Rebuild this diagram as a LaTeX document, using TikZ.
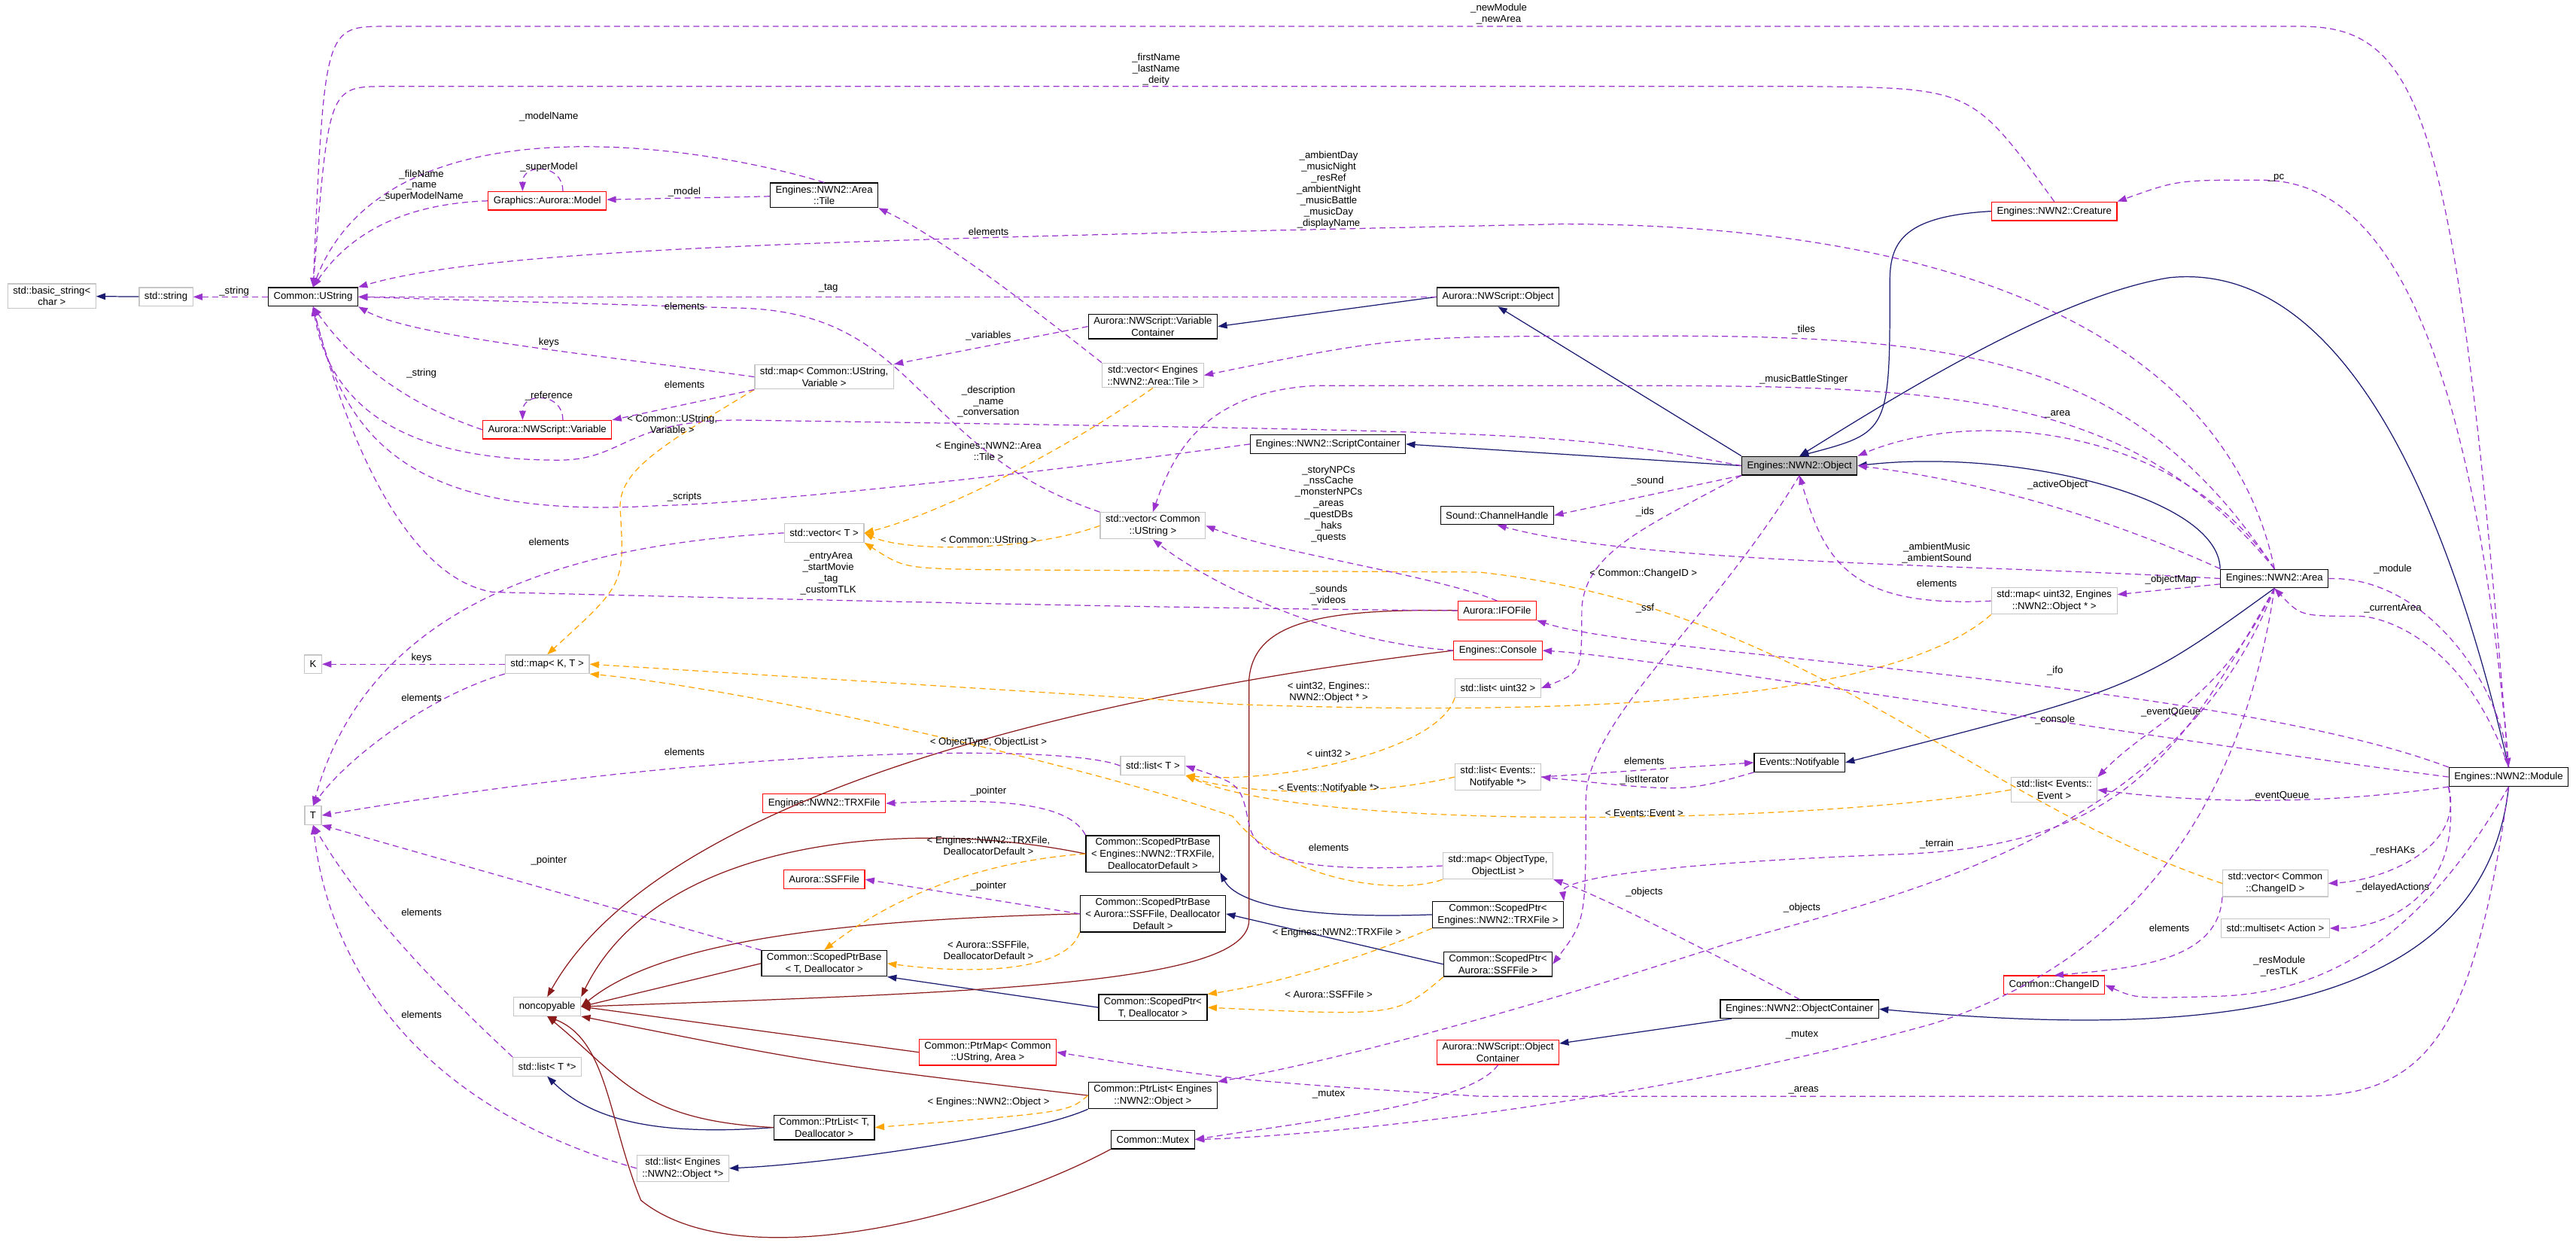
\documentclass[tikz,border=0pt]{standalone}
\usepackage{fontspec}
\setmainfont{Liberation Sans}
\usetikzlibrary{positioning, calc, arrows.meta, shapes}

\definecolor{usecol}{HTML}{9A32CD}
\definecolor{inhcol}{HTML}{191970}
\definecolor{ncpcol}{HTML}{8B1A1A}
\definecolor{tplcol}{HTML}{FFA500}

\begin{document}
\begin{tikzpicture}[x=0.02184cm, y=-0.02126cm,
    cls/.style={rectangle, draw=black, line width=0.75pt, fill=white, font=\fontsize{7.5}{9}\selectfont, align=center, inner xsep=4pt, inner ysep=2pt, minimum height=14pt},
    ext/.style={cls, draw=gray!45, line width=0.7pt},
    redcls/.style={cls, draw=red, line width=0.7pt},
    focus/.style={cls, fill=gray!55},
    lbl/.style={font=\fontsize{7.5}{8.5}\selectfont, align=center, inner sep=1pt},
    use/.style={usecol, dash pattern=on 4.5pt off 3pt, line width=0.7pt, -{Triangle[length=7pt,width=5pt]}},
    inh/.style={inhcol, line width=0.7pt, -{Triangle[length=7pt,width=5pt]}},
    ncp/.style={ncpcol, line width=0.7pt, -{Triangle[length=7pt,width=5pt]}},
    tpl/.style={tplcol, dash pattern=on 4.5pt off 3pt, line width=0.7pt, -{Triangle[length=7pt,width=5pt]}}
]
    \useasboundingbox (0,0) rectangle (3135,1568);

    % Classes, left half
    \node[ext] (bs) at (63,370) {std::basic\_string<\\char >};
    \node[ext] (str) at (202,371) {std::string};
    \node[cls] (us) at (381,371) {Common::UString};
    \node[redcls] (model) at (666,251) {Graphics::Aurora::Model};
    \node[cls] (tile) at (1003,244) {Engines::NWN2::Area\\::Tile};
    \node[cls] (nwvc) at (1403,408) {Aurora::NWScript::Variable\\Container};
    \node[ext] (vtile) at (1403,469) {std::vector< Engines\\::NWN2::Area::Tile >};
    \node[ext] (mapvar) at (1003,471) {std::map< Common::UString,\\Variable >};
    \node[redcls] (var) at (666,537) {Aurora::NWScript::Variable};
    \node[ext] (vus) at (1403,657) {std::vector< Common\\::UString >};
    \node[ext] (vecT) at (1003,666) {std::vector< T >};
    \node[ext] (K) at (381,830) {K};
    \node[ext] (mapKT) at (666,830) {std::map< K, T >};
    \node[ext] (T) at (381,1019) {T};
    \node[ext] (listT) at (1403,957) {std::list< T >};
    \node[redcls] (trx) at (1003,1004) {Engines::NWN2::TRXFile};
    \node[cls] (spbTRX) at (1403,1067) {Common::ScopedPtrBase\\< Engines::NWN2::TRXFile,\\DeallocatorDefault >};
    \node[redcls] (ssf) at (1003,1099) {Aurora::SSFFile};
    \node[cls] (spbSSF) at (1403,1142) {Common::ScopedPtrBase\\< Aurora::SSFFile, Deallocator\\Default >};
    \node[cls] (spbT) at (1003,1204) {Common::ScopedPtrBase\\< T, Deallocator >};
    \node[ext] (nonc) at (666,1258) {noncopyable};
    \node[cls] (spT) at (1403,1259) {Common::ScopedPtr<\\T, Deallocator >};
    \node[redcls] (ptrmap) at (1202,1315) {Common::PtrMap< Common\\::UString, Area >};
    \node[ext] (listTp) at (666,1333) {std::list< T *>};
    \node[cls] (ptrlistO) at (1403,1369) {Common::PtrList< Engines\\::NWN2::Object >};
    \node[cls] (ptrlistT) at (1003,1409) {Common::PtrList< T,\\Deallocator >};
    \node[cls] (mutex) at (1403,1424) {Common::Mutex};
    \node[ext] (listO) at (831,1460) {std::list< Engines\\::NWN2::Object *>};

    % Classes, right half
    \node[redcls] (creature) at (2500,264) {Engines::NWN2::Creature};
    \node[cls] (nwo) at (1823,371) {Aurora::NWScript::Object};
    \node[cls] (sc) at (1616,555) {Engines::NWN2::ScriptContainer};
    \node[focus] (obj) at (2190,582) {Engines::NWN2::Object};
    \node[cls] (snd) at (1822,644) {Sound::ChannelHandle};
    \node[cls] (area) at (2768,723) {Engines::NWN2::Area};
    \node[ext] (mapuo) at (2500,751) {std::map< uint32, Engines\\::NWN2::Object * >};
    \node[redcls] (ifo) at (1822,763) {Aurora::IFOFile};
    \node[redcls] (console) at (1823,813) {Engines::Console};
    \node[ext] (listu32) at (1823,860) {std::list< uint32 >};
    \node[cls] (notif) at (2190,953) {Events::Notifyable};
    \node[ext] (listN) at (1823,971) {std::list< Events::\\Notifyable *>};
    \node[ext] (listE) at (2500,987) {std::list< Events::\\Event >};
    \node[cls] (module) at (3053,971) {Engines::NWN2::Module};
    \node[ext] (mapOT) at (1823,1082) {std::map< ObjectType,\\ObjectList >};
    \node[ext] (vcid) at (2769,1104) {std::vector< Common\\::ChangeID >};
    \node[cls] (spTRX) at (1823,1143) {Common::ScopedPtr<\\Engines::NWN2::TRXFile >};
    \node[ext] (mset) at (2769,1160) {std::multiset< Action >};
    \node[cls] (spSSF) at (1823,1205) {Common::ScopedPtr<\\Aurora::SSFFile >};
    \node[redcls] (cid) at (2500,1231) {Common::ChangeID};
    \node[cls] (oc) at (2190,1261) {Engines::NWN2::ObjectContainer};
    \node[redcls] (nwoc) at (1823,1315) {Aurora::NWScript::Object\\Container};

    % Inheritance
    \draw[inh] (str) -- (bs);
    \draw[inh] (nwo.west) -- (nwvc.east);
    \draw[inh] (obj.north west) -- (nwo.south);
    \draw[inh] (obj.west) -- (sc.east);
    \draw[inh] (creature.west) .. controls (2320,270) and (2300,300) .. (2300,350) .. controls (2300,540) .. (obj.north);
    \draw[inh] (area.north west) .. controls (2700,620) and (2450,560) .. (obj.east);
    \draw[inh] (module.north) .. controls (2950,500) and (2800,330) .. (2640,347) .. controls (2500,370) and (2300,500) .. (obj.north);
    \draw[inh] (area.south) .. controls (2600,860) .. (notif.east);
    \draw[inh] (module.south) .. controls (3020,1300) and (2600,1290) .. (oc.east);
    \draw[inh] (oc) -- (nwoc);
    \draw[inh] (spTRX.west) .. controls (1550,1150) and (1500,1120) .. (spbTRX.south east);
    \draw[inh] (spSSF.west) -- (spbSSF.east);
    \draw[inh] (spT.west) -- (spbT.south east);
    \draw[inh] (ptrlistT.west) .. controls (800,1420) and (720,1400) .. (listTp.south);
    \draw[inh] (ptrlistO.south west) .. controls (1250,1420) and (1000,1455) .. (listO.east);

    % noncopyable
    \draw[ncp] (ifo.west) .. controls (1600,760) and (1525,780) .. (1520,850) -- (1520,1150) .. controls (1520,1230) and (1200,1240) .. (nonc.east);
    \draw[ncp] (console.west) .. controls (1300,870) and (800,1000) .. (nonc.north);
    \draw[ncp] (spbTRX.west) .. controls (1100,1020) and (800,1050) .. (nonc.north east);
    \draw[ncp] (spbSSF.west) .. controls (1000,1150) and (800,1180) .. (nonc.east);
    \draw[ncp] (spbT.west) -- (nonc.east);
    \draw[ncp] (ptrmap.west) -- (nonc.east);
    \draw[ncp] (ptrlistO.west) .. controls (1000,1330) .. (nonc.south east);
    \draw[ncp] (ptrlistT.west) .. controls (780,1400) and (760,1350) .. (nonc.south);
    \draw[ncp] (mutex.south west) .. controls (1200,1520) and (900,1600) .. (780,1500) .. controls (740,1400) and (740,1300) .. (nonc.south);

    % Template instances
    \draw[tpl] (mapvar.south west) .. controls (800,560) and (750,590) .. (755,640) .. controls (760,730) .. (mapKT.north);
    \draw[tpl] (vtile.south) .. controls (1300,560) and (1150,640) .. (vecT.east);
    \draw[tpl] (vus.west) .. controls (1250,690) and (1100,690) .. (vecT.east);
    \draw[tpl] (vcid.west) .. controls (2400,1000) and (2200,760) .. (1800,715) -- (1200,712) .. controls (1100,710) .. (vecT.south east);
    \draw[tpl] (mapuo.south west) .. controls (2300,880) and (1900,895) .. (1500,880) -- (mapKT.east);
    \draw[tpl] (mapOT.south west) .. controls (1700,1120) and (1560,1100) .. (1500,1020) .. controls (1300,950) and (900,860) .. (mapKT.south east);
    \draw[tpl] (listu32.south west) .. controls (1750,940) and (1550,980) .. (listT.south east);
    \draw[tpl] (listN.west) .. controls (1650,1000) and (1500,990) .. (listT.south east);
    \draw[tpl] (listE.west) .. controls (2200,1030) and (1600,1040) .. (listT.south east);
    \draw[tpl] (spbTRX.west) .. controls (1150,1080) and (1050,1150) .. (spbT.north);
    \draw[tpl] (spbSSF.south west) .. controls (1300,1210) and (1200,1220) .. (spbT.east);
    \draw[tpl] (spTRX.south west) .. controls (1650,1200) and (1550,1230) .. (spT.north east);
    \draw[tpl] (spSSF.south west) .. controls (1700,1270) .. (spT.east);
    \draw[tpl] (ptrlistO.west) .. controls (1300,1390) .. (ptrlistT.east);

    % Usage
    \draw[use] (us) -- (str);
    \draw[use] (model.west) .. controls (480,255) and (420,300) .. (us.north);
    \draw[use] ($(model.north)+(19,0)$) .. controls +(0,-35) and +(0,-35) .. ($(model.north)+(-30,0)$);
    \draw[use] (tile.north) .. controls (850,180) and (470,120) .. (us.north);
    \draw[use] (tile) -- (model);
    \draw[use] (creature.north) .. controls (2400,110) .. (2200,108) -- (470,108) .. controls (400,108) .. (us.north);
    \draw[use] (module.north) .. controls (2990,150) and (2950,33) .. (2800,33) -- (470,33) .. controls (395,33) .. (us.north);
    \draw[use] (area.north) .. controls (2700,380) and (2300,280) .. (1900,280) .. controls (1000,300) and (600,310) .. (us.north east);
    \draw[use] (nwo.west) -- (us.east);
    \draw[use] (vus.north west) .. controls (1110,560) and (1120,390) .. (900,385) -- (us.east);
    \draw[use] (mapvar.west) .. controls (700,440) and (500,420) .. (us.south east);
    \draw[use] (mapvar.south west) -- (var.north east);
    \draw[use] (var.west) .. controls (480,500) and (420,440) .. (us.south);
    \draw[use] ($(var.north)+(19,0)$) .. controls +(0,-35) and +(0,-35) .. ($(var.north)+(-30,0)$);
    \draw[use] (nwvc.west) -- (mapvar.north east);
    \draw[use] (obj.west) .. controls (1900,540) .. (900,525) .. controls (760,525) and (760,575) .. (680,575) .. controls (480,575) and (400,500) .. (us.south);
    \draw[use] (sc.west) .. controls (1200,600) and (900,630) .. (800,632) .. controls (500,650) and (420,550) .. (us.south);
    \draw[use] (ifo.west) .. controls (1400,760) and (1000,750) .. (600,740) .. controls (480,720) and (410,500) .. (us.south);
    \draw[use] (vecT.west) .. controls (700,680) and (450,750) .. (T.north);
    \draw[use] (mapKT) -- (K);
    \draw[use] (mapKT.south west) .. controls (520,870) and (420,950) .. (T.north);
    \draw[use] (listT.west) .. controls (1300,930) and (900,930) .. (T.east);
    \draw[use] (spbTRX.north west) .. controls (1300,1000) and (1200,998) .. (trx.east);
    \draw[use] (spbSSF.west) -- (ssf.east);
    \draw[use] (spbT.north west) -- (T.south east);
    \draw[use] (listTp.north west) .. controls (550,1250) and (450,1150) .. (T.south);
    \draw[use] (listO.west) .. controls (500,1380) and (400,1200) .. (T.south);
    \draw[use] (vtile.north west) .. controls (1250,380) and (1150,300) .. (tile.south east);
    \draw[use] (area.north) .. controls (2600,450) and (2400,418) .. (2000,420) .. controls (1700,420) .. (vtile.east);
    \draw[use] (area.north) .. controls (2600,500) and (2400,482) .. (2000,482) -- (1600,482) .. controls (1470,490) and (1430,560) .. (vus.north);
    \draw[use] (ifo.north) .. controls (1750,720) and (1550,690) .. (vus.east);
    \draw[use] (console.west) .. controls (1600,800) and (1460,720) .. (vus.south);
    \draw[use] (area.north) .. controls (2650,530) and (2400,510) .. (obj.north east);
    \draw[use] (area.north west) .. controls (2550,640) and (2400,600) .. (obj.east);
    \draw[use] (mapuo.west) .. controls (2250,760) and (2220,700) .. (obj.south);
    \draw[use] (obj.south west) -- (snd.east);
    \draw[use] (area.west) .. controls (2400,705) and (2000,705) .. (snd.south);
    \draw[use] (obj.south west) .. controls (2000,660) and (1930,690) .. (1925,760) .. controls (1925,840) .. (listu32.east);
    \draw[use] (obj.south) .. controls (2080,780) and (1930,900) .. (1930,1000) .. controls (1930,1150) .. (spSSF.east);
    \draw[use] (area) -- (mapuo);
    \draw[use] (area.east) .. controls (2950,720) and (3040,850) .. (module.north);
    \draw[use] (module.north) .. controls (3000,800) and (2900,770) .. (2870,770) .. controls (2800,770) .. (area.south);
    \draw[use] (module.north) .. controls (3000,300) and (2850,225) .. (2750,225) .. controls (2650,225) .. (creature.north east);
    \draw[use] (module.north west) .. controls (2700,850) and (2000,820) .. (ifo.south east);
    \draw[use] (module.west) .. controls (2600,920) and (2000,820) .. (console.east);
    \draw[use] (listN.east) -- (notif.west);
    \draw[use] (notif.south west) .. controls (2050,990) .. (listN.east);
    \draw[use] (area.south) .. controls (2700,880) and (2620,900) .. (listE.north east);
    \draw[use] (module.south west) .. controls (2800,1010) and (2650,1000) .. (listE.east);
    \draw[use] (area.south) .. controls (2650,950) and (2580,1060) .. (2300,1068) .. controls (2000,1080) and (1900,1100) .. (spTRX.north east);
    \draw[use] (area.south) .. controls (2650,1050) and (2300,1120) .. (2100,1180) .. controls (1800,1280) and (1600,1330) .. (ptrlistO.north east);
    \draw[use] (oc.north) .. controls (2100,1200) and (1950,1120) .. (mapOT.south east);
    \draw[use] (mapOT.west) .. controls (1600,1090) and (1530,1080) .. (1520,1030) .. controls (1510,980) .. (listT.east);
    \draw[use] (area.south) .. controls (2730,1000) and (2600,1200) .. (2350,1280) .. controls (2000,1380) and (1600,1420) .. (mutex.east);
    \draw[use] (nwoc.south) .. controls (1790,1380) and (1600,1400) .. (mutex.east);
    \draw[use] (module.south) .. controls (3010,1300) and (2950,1370) .. (2800,1370) -- (1800,1370) .. controls (1500,1350) .. (ptrmap.east);
    \draw[use] (vcid.south west) .. controls (2700,1200) and (2600,1210) .. (cid.north);
    \draw[use] (module.south west) .. controls (3000,1060) and (2900,1100) .. (vcid.east);
    \draw[use] (module.south west) .. controls (3000,1120) and (2900,1160) .. (mset.east);
    \draw[use] (module.south) .. controls (2960,1150) and (2850,1240) .. (2700,1245) .. controls (2600,1248) .. (cid.east);

    % Connector labels
    \foreach \x/\y/\t [count=\i] in {
        285/364/{\_string}, 513/232/{\_fileName\\\_name\\\_superModelName}, 668/209/{\_superModel},
        668/146/{\_modelName}, 833/240/{\_model}, 1407/87/{\_firstName\\\_lastName\\\_deity},
        1824/17/{\_newModule\\\_newArea}, 1617/237/{\_ambientDay\\\_musicNight\\\_resRef\\\_ambientNight\\\_musicBattle\\\_musicDay\\\_displayName},
        1203/290/{elements}, 1008/360/{\_tag}, 833/383/{elements}, 668/428/{keys}, 513/467/{\_string},
        833/481/{elements}, 668/495/{\_reference}, 1203/420/{\_variables}, 1203/502/{\_description\\\_name\\\_conversation},
        818/530/{< Common::UString,\\Variable >}, 1203/564/{< Engines::NWN2::Area\\::Tile >}, 833/621/{\_scripts},
        1203/676/{< Common::UString >}, 668/677/{elements}, 1008/717/{\_entryArea\\\_startMovie\\\_tag\\\_customTLK},
        513/822/{keys}, 513/872/{elements}, 833/940/{elements}, 1203/928/{< ObjectType, ObjectList >},
        1203/989/{\_pointer}, 1203/1057/{< Engines::NWN2::TRXFile,\\DeallocatorDefault >}, 668/1075/{\_pointer},
        1203/1107/{\_pointer}, 513/1140/{elements}, 1203/1188/{< Aurora::SSFFile,\\DeallocatorDefault >},
        513/1268/{elements}, 1203/1377/{< Engines::NWN2::Object >},
        2195/412/{\_tiles}, 2195/474/{\_musicBattleStinger}, 2504/518/{\_area}, 2504/606/{\_activeObject},
        2005/601/{\_sound}, 2002/640/{\_ids}, 1617/630/{\_storyNPCs\\\_nssCache\\\_monsterNPCs\\\_areas\\\_questDBs\\\_haks\\\_quests},
        2357/691/{\_ambientMusic\\\_ambientSound}, 2000/717/{< Common::ChangeID >}, 2357/729/{elements},
        2642/725/{\_objectMap}, 2912/711/{\_module}, 2912/760/{\_currentArea}, 2770/222/{\_pc},
        1617/744/{\_sounds\\\_videos}, 2002/760/{\_ssf}, 2501/838/{\_ifo}, 1617/865/{< uint32, Engines::\\NWN2::Object * >},
        2642/890/{\_eventQueue}, 2501/899/{\_console}, 1617/942/{< uint32 >}, 2001/951/{elements},
        2001/975/{\_listIterator}, 1617/985/{< Events::Notifyable *>}, 2774/995/{\_eventQueue},
        2001/1016/{< Events::Event >}, 2357/1055/{\_terrain}, 1617/1059/{elements}, 2912/1063/{\_resHAKs},
        2912/1109/{\_delayedActions}, 2001/1115/{\_objects}, 2193/1135/{\_objects}, 2640/1160/{elements},
        1627/1166/{< Engines::NWN2::TRXFile >}, 2774/1208/{\_resModule\\\_resTLK}, 1617/1243/{< Aurora::SSFFile >},
        2193/1293/{\_mutex}, 2195/1363/{\_areas}, 1617/1368/{\_mutex}} {
        \node[lbl] (lab\i) at (\x,\y) {\t};
    }

\end{tikzpicture}
\end{document}
